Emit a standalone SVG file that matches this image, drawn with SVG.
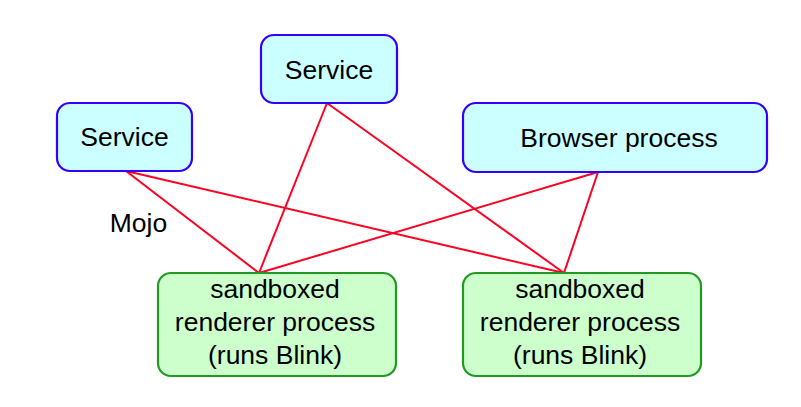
<svg xmlns="http://www.w3.org/2000/svg" width="801" height="407" viewBox="0 0 801 407">
<style>
.svc{fill:#ccffff;stroke:#3300ff;stroke-width:2.2}
.rnd{fill:#ccffcc;stroke:#229922;stroke-width:2.2}
.t{font-family:"Liberation Sans",Arial,sans-serif;font-size:26.5px;fill:#000;text-anchor:middle}
.c line{stroke:#ff0022;stroke-width:2}
</style>
<rect width="801" height="407" fill="#fff"/>
<g class="c" id="connectors">
<line x1="126" y1="171" x2="259" y2="273"/>
<line x1="126" y1="171" x2="564" y2="273"/>
<line x1="327" y1="103" x2="259" y2="273"/>
<line x1="327" y1="103" x2="564" y2="273"/>
<line x1="598" y1="172" x2="259" y2="273"/>
<line x1="598" y1="172" x2="564" y2="273"/>
</g>
<g id="service-left">
<rect class="svc" x="57" y="103" width="135" height="68" rx="13"/>
<text class="t" x="124.5" y="146">Service</text>
</g>
<g id="service-top">
<rect class="svc" x="261" y="35" width="136" height="68" rx="13"/>
<text class="t" x="329" y="78.5">Service</text>
</g>
<g id="browser">
<rect class="svc" x="463" y="103" width="304" height="69" rx="13"/>
<text class="t" x="619" y="146.5">Browser process</text>
</g>
<g id="renderer-left">
<rect class="rnd" x="158" y="273" width="238" height="103" rx="13"/>
<text class="t" x="275" y="298">sandboxed</text>
<text class="t" x="275" y="331">renderer process</text>
<text class="t" x="275" y="364">(runs Blink)</text>
</g>
<g id="renderer-right">
<rect class="rnd" x="463" y="273" width="238" height="103" rx="13"/>
<text class="t" x="580" y="298">sandboxed</text>
<text class="t" x="580" y="331">renderer process</text>
<text class="t" x="580" y="364">(runs Blink)</text>
</g>
<g id="label-mojo">
<text class="t" x="138.5" y="232" style="font-size:26.5px">Mojo</text>
</g>
</svg>
